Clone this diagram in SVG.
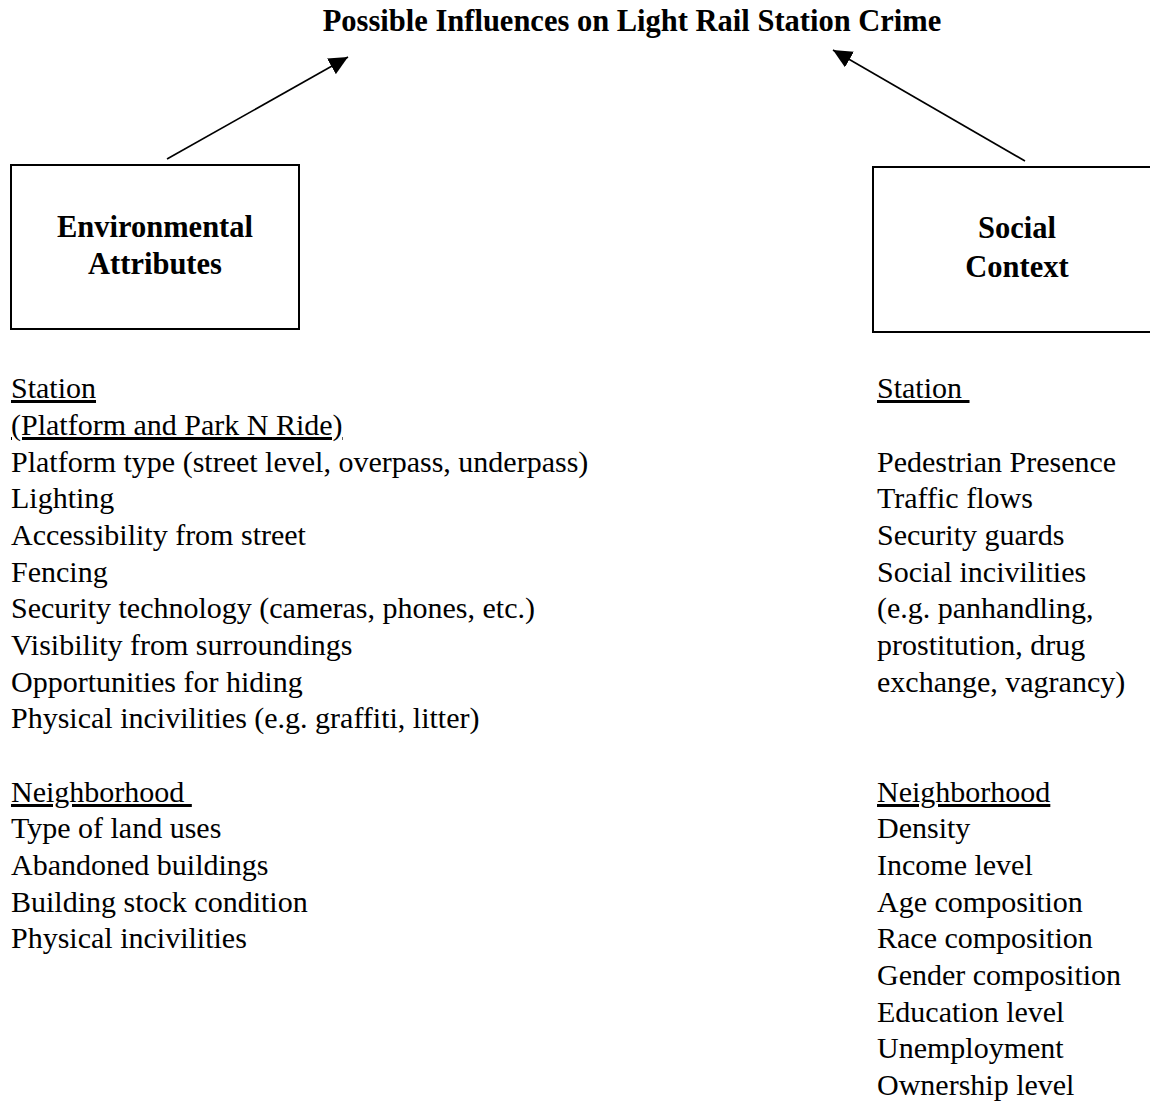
<svg xmlns="http://www.w3.org/2000/svg" width="1150" height="1103" viewBox="0 0 1150 1103">
<style>
text{font-family:"Liberation Serif","Times New Roman",serif;fill:#000;font-size:30px}
.b{font-weight:bold;font-size:30.5px}
.u{text-decoration:underline}
.box{fill:#fff;stroke:#000;stroke-width:2}
.conn{stroke:#000;stroke-width:1.6;fill:none}
</style>
<defs>
<marker id="ah" viewBox="0 0 19 18" refX="19" refY="9" markerWidth="19" markerHeight="18" markerUnits="userSpaceOnUse" orient="auto">
<path d="M0,0 L19,9 L0,18 z" fill="#000"/>
</marker>
</defs>
<rect width="1150" height="1103" fill="#fff"/>
<g id="title">
<text class="b" x="632" y="31" text-anchor="middle">Possible Influences on Light Rail Station Crime</text>
</g>
<g id="connectors">
<line class="conn" x1="167" y1="159" x2="348" y2="57" marker-end="url(#ah)"/>
<line class="conn" x1="1025" y1="161" x2="833" y2="50" marker-end="url(#ah)"/>
</g>
<g id="env">
<rect class="box" x="11" y="165" width="288" height="164"/>
<text class="b" x="155" y="237" text-anchor="middle">Environmental</text>
<text class="b" x="155" y="274" text-anchor="middle">Attributes</text>
</g>
<g id="social">
<rect class="box" x="873" y="167" width="290" height="165"/>
<text class="b" x="1017" y="238" text-anchor="middle">Social</text>
<text class="b" x="1017" y="277" text-anchor="middle">Context</text>
</g>
<g id="env-list">
<text class="u" x="11" y="398">Station</text>
<text class="u" x="11" y="435">(Platform and Park N Ride)</text>
<text x="11" y="472">Platform type (street level, overpass, underpass)</text>
<text x="11" y="508">Lighting</text>
<text x="11" y="545">Accessibility from street</text>
<text x="11" y="582">Fencing</text>
<text x="11" y="618">Security technology (cameras, phones, etc.)</text>
<text x="11" y="655">Visibility from surroundings</text>
<text x="11" y="692">Opportunities for hiding</text>
<text x="11" y="728">Physical incivilities (e.g. graffiti, litter)</text>
<text class="u" x="11" y="802" xml:space="preserve" style="white-space:pre">Neighborhood </text>
<text x="11" y="838">Type of land uses</text>
<text x="11" y="875">Abandoned buildings</text>
<text x="11" y="912">Building stock condition</text>
<text x="11" y="948">Physical incivilities</text>
</g>
<g id="social-list">
<text class="u" x="877" y="398" xml:space="preserve" style="white-space:pre">Station </text>
<text x="877" y="472">Pedestrian Presence</text>
<text x="877" y="508">Traffic flows</text>
<text x="877" y="545">Security guards</text>
<text x="877" y="582">Social incivilities</text>
<text x="877" y="618">(e.g. panhandling,</text>
<text x="877" y="655">prostitution, drug</text>
<text x="877" y="692">exchange, vagrancy)</text>
<text class="u" x="877" y="802">Neighborhood</text>
<text x="877" y="838">Density</text>
<text x="877" y="875">Income level</text>
<text x="877" y="912">Age composition</text>
<text x="877" y="948">Race composition</text>
<text x="877" y="985">Gender composition</text>
<text x="877" y="1022">Education level</text>
<text x="877" y="1058">Unemployment</text>
<text x="877" y="1095">Ownership level</text>
</g>
</svg>
